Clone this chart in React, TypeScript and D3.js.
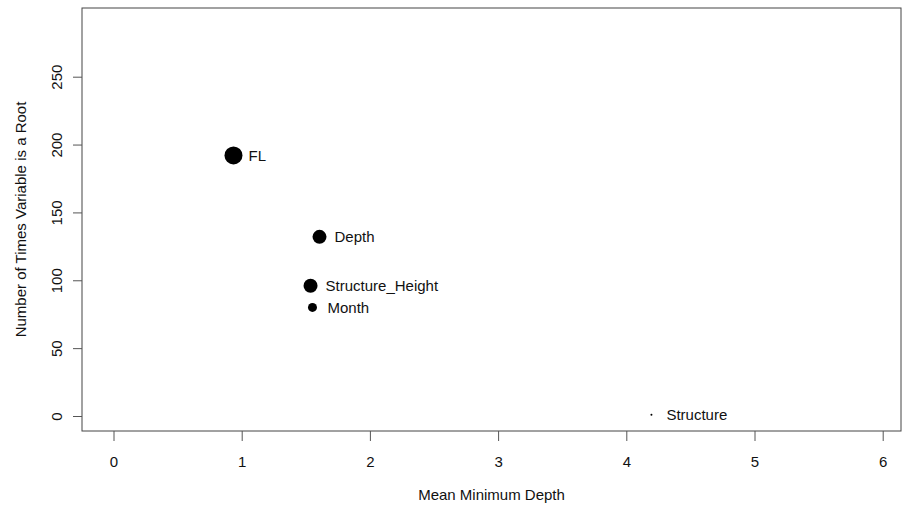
import React, { useEffect, useRef } from 'react';
import * as d3 from 'd3';

const names = ['FL', 'Depth', 'Structure_Height', 'Month', 'Structure'];
const meanMinDepth = [0.936, 1.607, 1.537, 1.552, 4.196];
const timesRoot = [192, 132, 96, 80, 1];
const pointSize = [9, 7, 7, 4.5, 1];
const xTicks = [0, 1, 2, 3, 4, 5, 6];
const yTicks = [0, 50, 100, 150, 200, 250];

const App = () => {
  const svgRef = useRef<SVGSVGElement>(null);

  useEffect(() => {
    const w = 902;
    const h = 506;
    const box = { left: 82, right: 901, top: 8, bottom: 431 };
    const font = '"Liberation Sans", Arial, sans-serif';
    const fs = 15;

    const svg = d3.select(svgRef.current).attr('width', w).attr('height', h);
    svg.selectAll('*').remove();

    const x = d3.scaleLinear().domain([0, 6]).range([113.5, 882.7]);
    const y = d3.scaleLinear().domain([0, 250]).range([416, 76.7]);

    svg.append('rect')
      .attr('x', box.left).attr('y', box.top)
      .attr('width', box.right - box.left).attr('height', box.bottom - box.top)
      .attr('fill', 'none').attr('stroke', '#444').attr('stroke-width', 1);

    const xAxis = d3.axisBottom(x).tickValues(xTicks).tickSize(10).tickPadding(15)
      .tickFormat(d => String(d));
    const gx = svg.append('g').attr('transform', `translate(0,${box.bottom})`).call(xAxis);
    gx.select('.domain').remove();
    gx.selectAll('line').attr('stroke', '#555');
    gx.selectAll('text').attr('font-family', font).attr('font-size', fs).attr('fill', '#111');

    const yAxis = d3.axisLeft(y).tickValues(yTicks).tickSize(9).tickFormat(d => String(d));
    const gy = svg.append('g').attr('transform', `translate(${box.left},0)`).call(yAxis);
    gy.select('.domain').remove();
    gy.selectAll('line').attr('stroke', '#555');
    gy.selectAll('text')
      .attr('font-family', font).attr('font-size', fs).attr('fill', '#111')
      .attr('x', null)
      .attr('text-anchor', 'middle')
      .attr('transform', 'translate(-25.5,0) rotate(-90)')
      .attr('dy', '0.35em');

    svg.append('text')
      .attr('x', (box.left + box.right) / 2).attr('y', 500)
      .attr('text-anchor', 'middle')
      .attr('font-family', font).attr('font-size', fs).attr('fill', '#111')
      .text('Mean Minimum Depth');

    svg.append('text')
      .attr('transform', `translate(21,${(box.top + box.bottom) / 2}) rotate(-90)`)
      .attr('text-anchor', 'middle').attr('dy', '0.35em')
      .attr('font-family', font).attr('font-size', fs).attr('fill', '#111')
      .text('Number of Times Variable is a Root');

    const idx = d3.range(names.length);
    svg.append('g').selectAll('circle').data(idx).join('circle')
      .attr('cx', i => x(meanMinDepth[i]))
      .attr('cy', i => y(timesRoot[i]))
      .attr('r', i => pointSize[i])
      .attr('fill', '#000');

    svg.append('g').selectAll('text').data(idx).join('text')
      .attr('x', i => x(meanMinDepth[i]) + 15)
      .attr('y', i => y(timesRoot[i]))
      .attr('dy', '0.35em')
      .attr('font-family', font).attr('font-size', fs).attr('fill', '#111')
      .text(i => names[i]);
  }, []);

  return (
    <div style={{ position: 'absolute', left: 0, top: 0 }}>
      <svg ref={svgRef}></svg>
    </div>
  );
};

export default App;
